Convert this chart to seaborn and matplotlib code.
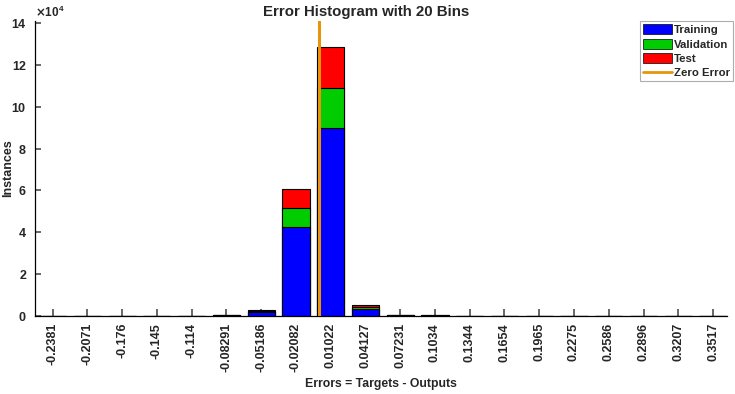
import numpy as np
import pandas as pd
import matplotlib
matplotlib.use("Agg")
import matplotlib.pyplot as plt
import seaborn as sns
from matplotlib.patches import Patch
from matplotlib.lines import Line2D

bin_labels = ["-0.2381", "-0.2071", "-0.176", "-0.145", "-0.114", "-0.08291",
              "-0.05186", "-0.02082", "0.01022", "0.04127", "0.07231", "0.1034",
              "0.1344", "0.1654", "0.1965", "0.2275", "0.2586", "0.2896",
              "0.3207", "0.3517"]
bin_centers = [float(s) for s in bin_labels]
training = [0, 0, 0, 0, 40, 300, 2000, 42500, 90000, 3400, 500, 200,
            0, 0, 0, 0, 0, 0, 0, 0]
validation = [0, 0, 0, 0, 10, 100, 500, 9000, 19000, 1100, 100, 50,
              0, 0, 0, 0, 0, 0, 0, 0]
test = [0, 0, 0, 0, 10, 100, 400, 9000, 19500, 600, 100, 50,
        0, 0, 0, 0, 0, 0, 0, 0]

sns.set_theme(style="white")
plt.rcParams["font.family"] = ["Liberation Sans", "DejaVu Sans"]
plt.rcParams["font.weight"] = "bold"

df = pd.DataFrame({"bin": bin_labels,
                   "train": training,
                   "tv": np.array(training) + np.array(validation),
                   "all": np.array(training) + np.array(validation) + np.array(test)})

fig = plt.figure(figsize=(7.35, 3.94), dpi=100)
ax = fig.add_axes([0.048, 0.198, 0.941, 0.749])

kw = dict(data=df, x="bin", order=bin_labels, width=0.78, edgecolor="black",
          linewidth=0.8, ax=ax, saturation=1)
sns.barplot(y="all", color="#ff0000", **kw)
sns.barplot(y="tv", color="#00cc00", **kw)
sns.barplot(y="train", color="#0000ff", **kw)

zero_pos = np.interp(0.0, bin_centers, np.arange(len(bin_centers)))
ax.axvline(zero_pos, color="#e8950c", linewidth=2.2, zorder=5)

ax.set_xlim(-0.5, 19.4)
ax.set_ylim(0, 141000)
ax.set_yticks(np.arange(0, 140001, 20000))
ax.ticklabel_format(axis="y", style="sci", scilimits=(4, 4), useMathText=True)
ax.yaxis.get_offset_text().set_fontsize(8.5)
ax.yaxis.get_offset_text().set_fontweight("bold")

ax.tick_params(axis="x", labelrotation=90, labelsize=9, direction="in",
               length=5, color="#555555", pad=5, bottom=True)
ax.tick_params(axis="y", labelsize=9, direction="in", length=4,
               color="#555555", left=True, pad=6)
for lbl in ax.get_xticklabels() + ax.get_yticklabels():
    lbl.set_fontweight("bold")

for s in ["top", "right"]:
    ax.spines[s].set_visible(False)
for s in ["left", "bottom"]:
    ax.spines[s].set_color("black")
    ax.spines[s].set_linewidth(0.9)

fig.text(366 / 735, 1 - 12 / 394, "Error Histogram with 20 Bins", fontsize=10.8,
         fontweight="bold", ha="center", va="center")
ax.set_ylabel("Instances", fontsize=9, fontweight="bold")
ax.yaxis.set_label_coords(-0.030, 0.5)
ax.set_xlabel("Errors = Targets - Outputs", fontsize=8.8, fontweight="bold")
ax.xaxis.set_label_coords(0.5, -0.21)

handles = [Patch(facecolor="#0000ff", edgecolor="black", linewidth=0.5, label="Training"),
           Patch(facecolor="#00cc00", edgecolor="black", linewidth=0.5, label="Validation"),
           Patch(facecolor="#ff0000", edgecolor="black", linewidth=0.5, label="Test"),
           Line2D([0], [0], color="#e8950c", linewidth=2, label="Zero Error")]
leg = ax.legend(handles=handles, loc="upper right", bbox_to_anchor=(1.012, 1.006),
                fontsize=8.2, frameon=True, fancybox=False, handlelength=2.55,
                handleheight=1.0, labelspacing=0.3, borderpad=0.25,
                handletextpad=0.2, borderaxespad=0.2)
leg.get_frame().set_edgecolor("#999999")
leg.get_frame().set_linewidth(0.8)
for t in leg.get_texts():
    t.set_fontweight("bold")

fig.savefig("out.png", dpi=100)
